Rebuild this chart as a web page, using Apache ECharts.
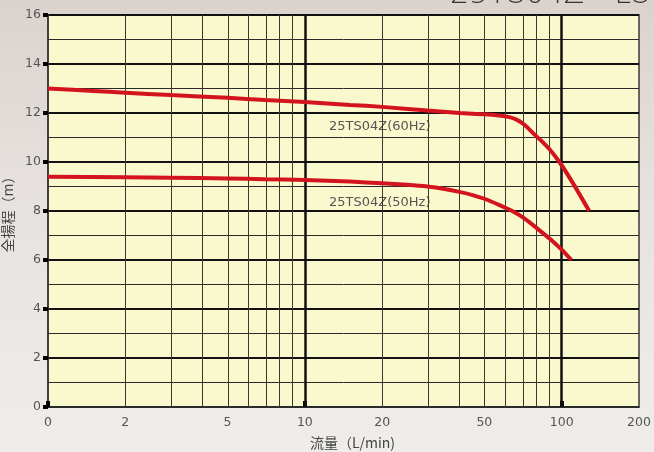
<!DOCTYPE html>
<html>
<head>
<meta charset="utf-8">
<script src="https://cdn.jsdelivr.net/npm/echarts@6/dist/echarts.min.js"></script>
<style>
html,body{margin:0;padding:0;}
body{width:654px;height:452px;background:linear-gradient(#DAD2CD 0%,#E6E1DE 40%,#EFEDEA 100%);overflow:hidden;}
#c{width:654px;height:452px;}
</style>
</head>
<body>
<div id="c"></div>
<script>
// Flow (L/min) and head (m)
const flow60 = [1, 1.5, 2, 3, 5, 7, 10, 15, 20, 30, 40, 50, 57, 62, 67, 72, 77, 83, 90, 98, 110, 128];
const head60 = [13.0, 12.9, 12.83, 12.73, 12.62, 12.53, 12.45, 12.33, 12.25, 12.1, 12.0, 11.95, 11.9, 11.84, 11.72, 11.5, 11.2, 10.88, 10.5, 10.0, 9.18, 8.0];
const flow50 = [1, 2, 3, 5, 7, 10, 15, 20, 25, 30, 35, 40, 45, 50, 57, 65, 72, 80, 92, 100, 109];
const head50 = [9.4, 9.38, 9.36, 9.33, 9.3, 9.27, 9.2, 9.13, 9.07, 9.0, 8.9, 8.78, 8.65, 8.5, 8.25, 7.97, 7.68, 7.3, 6.78, 6.42, 6.0];
const xTickLabels = [1, 2, 5, 10, 20, 50, 100, 200];
const xDecades = [1, 10, 100];
const xGridThin = [2, 3, 4, 5, 6, 7, 8, 9, 20, 30, 40, 50, 60, 70, 80, 90];
const xGridThick = [10, 100];
const seriesNames = ['25TS04Z(60Hz)', '25TS04Z(50Hz)'];

const lg = v => Math.log10(v);
const chart = echarts.init(document.getElementById('c'), null, {renderer: 'canvas'});
const labelColor = '#555';
const font = '"DejaVu Sans", sans-serif';
const cjk = '"Noto Sans CJK JP", sans-serif';

const gridLines = xGridThin.map(v => ({xAxis: lg(v), lineStyle: {color: '#3a3a30', width: 1, type: 'solid'}}))
  .concat(xGridThick.map(v => ({xAxis: lg(v), lineStyle: {color: '#111', width: 2.5, type: 'solid'}})));

chart.setOption({
  backgroundColor: 'transparent',
  animation: false,
  grid: {left: 48, right: 15, top: 15, bottom: 45, outerBoundsMode: 'none', show: true, backgroundColor: '#FAF8CD', borderColor: '#3a3a3a', borderWidth: 1.5},
  xAxis: {
    type: 'value', min: 0, max: lg(200),
    name: '流量（L/min)', nameLocation: 'middle', nameGap: 29,
    nameTextStyle: {color: '#444', fontSize: 14, fontFamily: cjk, padding: [0, 0, 0, 18]},
    axisLine: {show: true, lineStyle: {color: '#333', width: 1.5}},
    axisTick: {show: true, customValues: xDecades.map(lg), length: 6, inside: true, lineStyle: {color: '#000', width: 4}},
    axisLabel: {customValues: xTickLabels.map(lg), color: labelColor, fontSize: 12.5, fontFamily: font, margin: 9,
      formatter: v => { const r = Math.round(Math.pow(10, v)); return r === 1 ? '0' : String(r); }},
    splitLine: {show: false}
  },
  yAxis: {
    type: 'value', min: 0, max: 16, interval: 2,
    name: '全揚程（m）', nameLocation: 'middle', nameGap: 31, nameRotate: 90,
    nameTextStyle: {color: '#444', fontSize: 14, fontFamily: cjk},
    axisLine: {show: true, lineStyle: {color: '#333', width: 1.5}},
    axisTick: {show: true, length: 5, lineStyle: {color: '#000', width: 4}},
    axisLabel: {color: labelColor, fontSize: 12.5, fontFamily: font, margin: 7},
    splitLine: {show: true, lineStyle: {color: '#111', width: 2}},
    minorTick: {show: false, splitNumber: 2},
    minorSplitLine: {show: true, lineStyle: {color: '#2a2a2a', width: 1}}
  },
  series: [
    {type: 'line', name: 'grid', data: [], silent: true,
      markLine: {silent: true, symbol: 'none', label: {show: false}, data: gridLines, animation: false}},
    {type: 'line', name: seriesNames[0], data: flow60.map((f, i) => [lg(f), head60[i]]), smooth: 0.25, showSymbol: false,
      lineStyle: {color: '#D3141F', width: 4}, z: 5},
    {type: 'line', name: seriesNames[1], data: flow50.map((f, i) => [lg(f), head50[i]]), smooth: 0.25, showSymbol: false,
      lineStyle: {color: '#D3141F', width: 4}, z: 5}
  ],
  graphic: [
    {type: 'text', left: 329, top: 120, style: {text: seriesNames[0], fill: '#555', font: '13px ' + font}},
    {type: 'text', left: 329, top: 196, style: {text: seriesNames[1], fill: '#555', font: '13px ' + font}},
    {type: 'text', right: 4, top: -20, style: {text: '25TS04Z - LS', fill: '#333', font: '200 30px ' + font}}
  ]
});
</script>
</body>
</html>
